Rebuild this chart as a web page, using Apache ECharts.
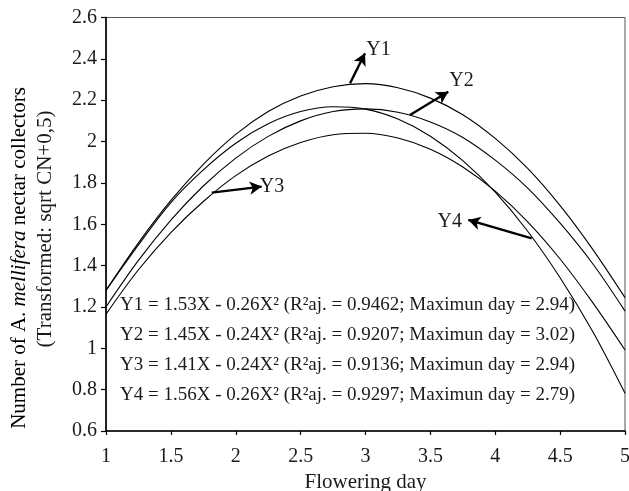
<!DOCTYPE html>
<html>
<head>
<meta charset="utf-8">
<script src="https://cdn.jsdelivr.net/npm/echarts@6/dist/echarts.min.js"></script>
<style>
html,body{margin:0;padding:0;background:#fff;}
#chart{width:629px;height:491px;}
</style>
</head>
<body>
<div id="chart"></div>
<script>
// ---- data ----
var xDays = [1, 1.25, 1.5, 1.75, 2, 2.25, 2.5, 2.75, 3, 3.25, 3.5, 3.75, 4, 4.25, 4.5, 4.75, 5];
var y1 = [1.28, 1.51, 1.715, 1.89, 2.035, 2.145, 2.22, 2.265, 2.28, 2.26, 2.21, 2.13, 2.015, 1.87, 1.69, 1.48, 1.245];
var y2 = [1.20, 1.425, 1.62, 1.785, 1.92, 2.025, 2.10, 2.145, 2.158, 2.142, 2.095, 2.02, 1.91, 1.775, 1.605, 1.41, 1.18];
var y3 = [1.165, 1.38, 1.56, 1.71, 1.835, 1.93, 1.995, 2.033, 2.04, 2.017, 1.963, 1.877, 1.76, 1.612, 1.432, 1.222, 0.992];
var y4 = [1.28, 1.50, 1.705, 1.863, 1.992, 2.086, 2.145, 2.168, 2.157, 2.109, 2.026, 1.908, 1.755, 1.566, 1.341, 1.082, 0.782];
var seriesNames = ['Y1', 'Y2', 'Y3', 'Y4'];
var equations = [
  'Y1 = 1.53X - 0.26X² (R²aj. = 0.9462; Maximun day = 2.94)',
  'Y2 = 1.45X - 0.24X² (R²aj. = 0.9207; Maximun day = 3.02)',
  'Y3 = 1.41X - 0.24X² (R²aj. = 0.9136; Maximun day = 2.94)',
  'Y4 = 1.56X - 0.26X² (R²aj. = 0.9297; Maximun day = 2.79)'
];
// arrow annotations: [start x, start y, end x, end y, label x, label y]
var arrows = [
  [2.881, 2.282, 2.996, 2.427, 3.10, 2.443],
  [3.343, 2.128, 3.638, 2.241, 3.74, 2.293],
  [1.815, 1.753, 2.200, 1.782, 2.28, 1.780],
  [4.281, 1.532, 3.792, 1.621, 3.65, 1.611]
];
var xTitle = 'Flowering day';

var FONT = '"Liberation Serif", "Times New Roman", serif';
var TXT = '#1a1a1a';

function pairs(ys){ return xDays.map(function(x,i){ return [x, ys[i]]; }); }
var allY = [y1, y2, y3, y4];

var series = allY.map(function(ys, i){
  var a = arrows[i];
  return {
    name: seriesNames[i],
    type: 'line',
    data: pairs(ys),
    smooth: 0.35,
    symbol: 'none',
    lineStyle: { color: '#000', width: 1.1 },
    silent: true,
    markLine: {
      silent: true,
      symbol: ['none', 'arrow'],
      symbolSize: [10, 12],
      lineStyle: { color: '#000', width: 2.4, type: 'solid' },
      label: { show: false },
      data: [[ { coord: [a[0], a[1]] }, { coord: [a[2], a[3]] } ]]
    },
    markPoint: {
      silent: true,
      symbol: 'circle',
      symbolSize: 1,
      itemStyle: { color: 'rgba(0,0,0,0)' },
      label: {
        show: true, position: 'inside', formatter: seriesNames[i],
        fontFamily: FONT, fontSize: 20, color: TXT
      },
      data: [ { coord: [a[4], a[5]] } ]
    }
  };
});

var graphics = equations.map(function(t, i){
  return {
    type: 'text',
    x: 120, y: 305 + i * 30,
    style: {
      text: t, font: '19px ' + FONT, fill: TXT,
      textAlign: 'left', textVerticalAlign: 'middle'
    },
    z: 100
  };
});
graphics.push({
  type: 'text',
  x: 19, y: 258,
  rotation: Math.PI / 2,
  style: {
    text: '{a|Number of A. }{b|mellifera}{a| nectar collectors}',
    textAlign: 'center', textVerticalAlign: 'middle',
    rich: {
      a: { fontFamily: FONT, fontSize: 21, color: TXT },
      b: { fontFamily: FONT, fontSize: 21, fontStyle: 'italic', color: TXT }
    }
  }
});
graphics.push({
  type: 'text',
  x: 45, y: 229,
  rotation: Math.PI / 2,
  style: {
    text: '(Transformed: sqrt CN+0,5)', font: '21px ' + FONT, fill: TXT,
    textAlign: 'center', textVerticalAlign: 'middle'
  }
});

var chart = echarts.init(document.getElementById('chart'), null, { renderer: 'canvas' });
chart.setOption({
  animation: false,
  backgroundColor: '#fff',
  grid: {
    left: 106, right: 4, top: 17.5, bottom: 60,
    containLabel: false, outerBoundsMode: 'none',
    show: true, borderColor: '#555', borderWidth: 1, backgroundColor: 'transparent'
  },
  xAxis: {
    type: 'value', min: 1, max: 5, interval: 0.5,
    name: xTitle, nameLocation: 'middle', nameGap: 39,
    nameTextStyle: { fontFamily: FONT, fontSize: 21, color: TXT },
    axisLine: { show: true, lineStyle: { color: '#000', width: 1.6 } },
    axisTick: { show: true, inside: false, length: 4, lineStyle: { color: '#000', width: 1.2 } },
    axisLabel: { fontFamily: FONT, fontSize: 20, color: TXT, margin: 16 },
    splitLine: { show: false }
  },
  yAxis: {
    type: 'value', min: 0.6, max: 2.6, interval: 0.2,
    axisLine: { show: true, lineStyle: { color: '#000', width: 1.6 } },
    axisTick: { show: true, inside: false, length: 5, lineStyle: { color: '#000', width: 1.2 } },
    axisLabel: { fontFamily: FONT, fontSize: 20, color: TXT, margin: 9 },
    splitLine: { show: false }
  },
  series: series,
  graphic: graphics
});
</script>
</body>
</html>
